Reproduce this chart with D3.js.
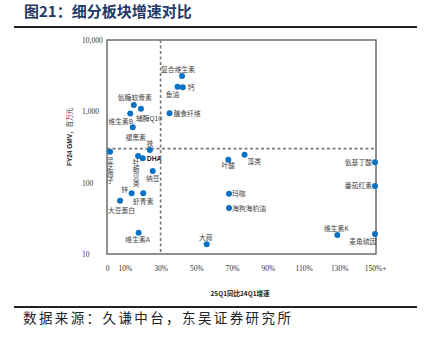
<!DOCTYPE html>
<html>
<head>
<meta charset="utf-8">
<script src="https://cdn.jsdelivr.net/npm/d3@7"></script>
<style>
  body { margin: 0; background: #fff; }
  svg { display: block; }
</style>
</head>
<body>
<div id="chart"></div>
<script>
// segment names, 25Q1 yoy growth (%), FY24 GMV (million CNY)
const names = ["复合维生素", "鱼油", "钙", "膳食纤维", "氨糖软骨素", "辅酶Q10", "维生素B", "褪黑素",
    "铁", "灵芝孢子", "牡蛎贝类", "DHA", "纳豆", "锌", "虾青素", "大豆蛋白", "维生素A", "大蒜",
    "叶酸", "藻类", "玛咖", "海狗海豹油", "氨基丁酸", "番茄红素", "维生素K", "麦角硫因"];
const growth = [42, 39.5, 42.4, 35, 15, 19, 13, 14.4,
    24, 1.7, 17.4, 20, 25.6, 13.8, 20.3, 7.3, 17.7, 55.8,
    67.9, 77, 68.3, 68.3, 150, 150, 128.9, 150];
const gmv = [3130, 2210, 2180, 940, 1230, 1090, 930, 600,
    287, 272, 237, 220, 146, 71, 71, 56, 19.9, 13.7,
    210, 247, 70, 44, 193, 90, 18.5, 19];

const xTicks = [0, 10, 30, 50, 70, 90, 110, 130, 150];
const xTickLabels = ["0", "10%", "30%", "50%", "70%", "90%", "110%", "130%", "150%+"];
const yTicks = [10, 100, 1000, 10000];
const growthCut = 30, gmvCut = 300;

// label placement: [dx, dy, anchor] or "v" for vertical text below the dot
const labelPos = {
    "复合维生素": [-4, -3.5, "middle"], "鱼油": [-5, 10, "middle"], "钙": [5, 3, "start"],
    "膳食纤维": [4, 2.5, "start"], "氨糖软骨素": [1, -5, "middle"], "辅酶Q10": [-5, 12, "start"],
    "维生素B": [3, 10, "end"], "褪黑素": [3, 12.5, "middle"], "铁": [0, -4.5, "middle"],
    "灵芝孢子": [0, 5, "v"], "牡蛎贝类": [-2, 3.5, "v"], "DHA": [4, 2.5, "start"], "纳豆": [0, 10, "middle"],
    "锌": [-3.5, -1, "end"], "虾青素": [0, 11, "middle"], "大豆蛋白": [1.5, 12, "middle"],
    "维生素A": [-1, 9, "middle"], "大蒜": [-1, -4, "middle"], "叶酸": [0, 8.5, "middle"],
    "藻类": [3, 9.5, "start"], "玛咖": [3, 2.5, "start"], "海狗海豹油": [3, 2.5, "start"],
    "氨基丁酸": [-3, 2.5, "end"], "番茄红素": [-3, 2.5, "end"], "维生素K": [-1, -3.5, "middle"],
    "麦角硫因": [1.5, 9.5, "end"]
};

const width = 428, height = 339;
const plotL = 107, plotR = 376, plotT = 40, plotB = 254;
const cjk = "'Noto Sans CJK SC', sans-serif";
const serif = "'Liberation Serif', 'DejaVu Serif', serif";
const blue = "#0a72c4";

const svg = d3.select("#chart").append("svg")
    .attr("width", width)
    .attr("height", height);

// title and rules
svg.append("text")
    .attr("x", 24).attr("y", 17)
    .attr("font-family", cjk).attr("font-size", 15).attr("font-weight", "bold")
    .attr("fill", "#1f3a68")
    .text("图21：细分板块增速对比");
svg.append("line").attr("x1", 14).attr("x2", 417).attr("y1", 27).attr("y2", 27)
    .attr("stroke", "#222").attr("stroke-width", 2);
svg.append("line").attr("x1", 14).attr("x2", 417).attr("y1", 307).attr("y2", 307)
    .attr("stroke", "#222").attr("stroke-width", 2);
svg.append("text")
    .attr("x", 23).attr("y", 323)
    .attr("font-family", cjk).attr("font-size", 13.5).attr("letter-spacing", 2.4)
    .attr("fill", "#222")
    .text("数据来源：久谦中台，东吴证券研究所");

const x = d3.scaleLinear().domain([0, 150]).range([plotL, plotR - 1]);
const y = d3.scaleLog().domain([10, 10000]).range([plotB, plotT]);

// frame
svg.append("rect")
    .attr("x", plotL).attr("y", plotT)
    .attr("width", plotR - plotL).attr("height", plotB - plotT)
    .attr("fill", "none").attr("stroke", "#555").attr("stroke-width", 1.3);

// quadrant dividers
svg.append("line")
    .attr("x1", x(growthCut)).attr("x2", x(growthCut))
    .attr("y1", plotT).attr("y2", plotB)
    .attr("stroke", "#7a7a7a").attr("stroke-width", 1.6).attr("stroke-dasharray", "3,2.5");
svg.append("line")
    .attr("x1", plotL).attr("x2", plotR)
    .attr("y1", y(gmvCut)).attr("y2", y(gmvCut))
    .attr("stroke", "#7a7a7a").attr("stroke-width", 1.6).attr("stroke-dasharray", "3,2.5");

// axes (labels only, the frame carries the lines)
const xAxis = d3.axisBottom(x).tickValues(xTicks).tickSize(0).tickPadding(12)
    .tickFormat((d, i) => xTickLabels[i]);
const gx = svg.append("g").attr("transform", "translate(0," + plotB + ")").call(xAxis);
gx.select(".domain").remove();
gx.selectAll("text").attr("font-family", serif).attr("font-size", 7.5).attr("fill", "#333");

const yAxis = d3.axisLeft(y).tickValues(yTicks).tickSize(0).tickFormat(d3.format(","));
const gy = svg.append("g").attr("transform", "translate(" + plotL + ",0)").call(yAxis);
gy.select(".domain").remove();
gy.selectAll("text")
    .attr("x", 82 - plotL).attr("text-anchor", "start")
    .attr("font-family", serif).attr("font-size", 7.5).attr("fill", "#333");

// axis titles
svg.append("text")
    .attr("x", 240).attr("y", 296)
    .attr("text-anchor", "middle")
    .attr("font-family", cjk).attr("font-size", 6.5).attr("font-weight", "bold")
    .attr("fill", "#222")
    .text("25Q1同比24Q1增速");
const yt = svg.append("text")
    .attr("transform", "translate(72,137) rotate(-90)")
    .attr("text-anchor", "middle")
    .attr("font-size", 6.5).attr("fill", "#222");
yt.append("tspan").attr("font-family", "'Liberation Sans', sans-serif").attr("font-weight", "bold").text("FY24 GMV");
yt.append("tspan").attr("font-family", cjk).text("，百万元");

// points
const pts = names.map((n, i) => ({name: n, g: growth[i], v: gmv[i]}));
svg.append("g").selectAll("circle")
    .data(pts)
    .enter().append("circle")
    .attr("cx", d => x(d.g))
    .attr("cy", d => y(d.v))
    .attr("r", 3)
    .attr("fill", blue);

// labels
const lbl = svg.append("g").attr("font-family", cjk).attr("font-size", 6.8).attr("fill", "#444");
pts.forEach(d => {
    const p = labelPos[d.name];
    const t = lbl.append("text")
        .attr("x", x(d.g) + p[0])
        .attr("y", y(d.v) + p[1])
        .text(d.name);
    if (p[2] === "v") {
        t.style("writing-mode", "vertical-rl").attr("text-anchor", "start");
    } else {
        t.attr("text-anchor", p[2]);
    }
    if (d.name === "DHA") {
        t.attr("font-family", "'Liberation Sans', sans-serif").attr("font-weight", "bold").attr("fill", "#222");
    }
});
</script>
</body>
</html>
